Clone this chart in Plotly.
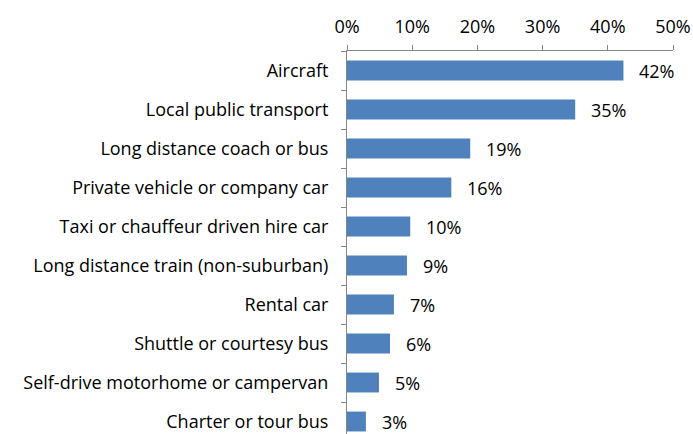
import plotly.graph_objects as go

categories = ["Aircraft", "Local public transport", "Long distance coach or bus",
              "Private vehicle or company car", "Taxi or chauffeur driven hire car",
              "Long distance train (non-suburban)", "Rental car", "Shuttle or courtesy bus",
              "Self-drive motorhome or campervan", "Charter or tour bus"]
values = [42.4, 35.0, 18.9, 16.0, 9.7, 9.2, 7.2, 6.6, 4.9, 2.9]
labels = ["42%", "35%", "19%", "16%", "10%", "9%", "7%", "6%", "5%", "3%"]
x_ticks = [0, 10, 20, 30, 40, 50]
x_tick_labels = ["0%", "10%", "20%", "30%", "40%", "50%"]

FONT = "Open Sans"
FS = 18
fig = go.Figure()
fig.add_trace(go.Bar(
    y=categories, x=values, orientation="h",
    marker=dict(color="#4F81BD", line=dict(width=0)),
    hoverinfo="skip",
))
for c, v, t in zip(categories, values, labels):
    fig.add_annotation(x=v, y=c, text=t, showarrow=False, xanchor="left",
                       xshift=14, yshift=0, font=dict(family=FONT, size=FS, color="black"))

fig.update_layout(
    width=693, height=434,
    margin=dict(l=347, r=20, t=51, b=0),
    paper_bgcolor="white", plot_bgcolor="white",
    bargap=0.49, showlegend=False,
    font=dict(family=FONT, size=FS, color="black"),
)
fig.update_xaxes(
    side="top", range=[0, 50], tickvals=x_ticks, ticktext=x_tick_labels,
    showgrid=False, zeroline=False, showline=True, linecolor="#868686", linewidth=1,
    ticks="outside", ticklen=5, tickcolor="#868686", ticklabelstandoff=5,
    tickfont=dict(family=FONT, size=FS, color="black"),
)
fig.update_yaxes(
    type="category", categoryorder="array", categoryarray=categories,
    range=[9.32, -0.5], showgrid=False, showline=True, linecolor="#868686", linewidth=1,
    ticks="outside", ticklen=5, tickcolor="#868686", tickson="boundaries",
    ticklabelstandoff=14,
    tickfont=dict(family=FONT, size=FS, color="black"),
)
fig.write_html("out.html")
